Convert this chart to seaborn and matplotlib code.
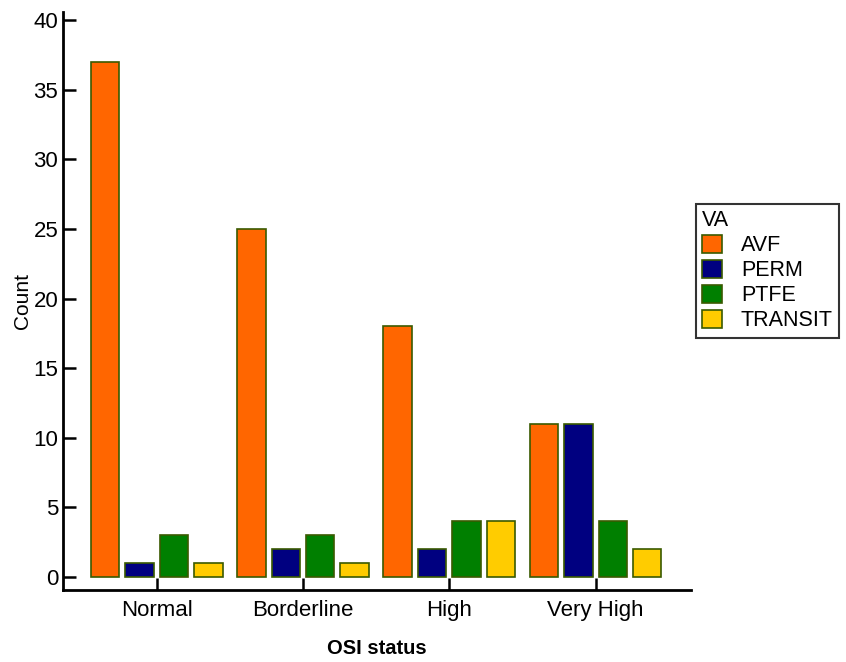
import matplotlib
matplotlib.use("Agg")
import matplotlib.pyplot as plt
import pandas as pd
import seaborn as sns

# OSI status 별 VA 종류 빈도
status = ["Normal", "Borderline", "High", "Very High"]
va_types = ["AVF", "PERM", "PTFE", "TRANSIT"]
avf = [37, 25, 18, 11]
perm = [1, 2, 2, 11]
ptfe = [3, 3, 4, 4]
transit = [1, 1, 4, 2]
colors = ["#FF6600", "#000080", "#007F00", "#FFCC00"]

rows = []
for name, vals in zip(va_types, [avf, perm, ptfe, transit]):
    for s, v in zip(status, vals):
        rows.append({"OSI status": s, "VA": name, "Count": v})
df = pd.DataFrame(rows)

sns.set_style("ticks")
plt.rcParams["font.family"] = ["Liberation Sans", "DejaVu Sans"]
plt.rcParams["text.color"] = "black"

fig = plt.figure(figsize=(8.46, 6.62), dpi=100)
ax = fig.add_axes([0.0745, 0.109, 0.742, 0.873])

sns.barplot(data=df, x="OSI status", y="Count", hue="VA", order=status,
            hue_order=va_types, palette=colors, width=0.94, gap=0.17,
            edgecolor="#3a5a00", linewidth=1.2, saturation=1, ax=ax)

ax.set_xlim(-0.64, 3.65)
ax.set_ylim(-0.93, 40.6)
ax.set_yticks([0, 5, 10, 15, 20, 25, 30, 35, 40])
sns.despine(ax=ax)
for sp in ["left", "bottom"]:
    ax.spines[sp].set_linewidth(2)
    ax.spines[sp].set_color("black")
ax.tick_params(direction="in", length=9, width=1.8, labelsize=16, colors="black")
ax.tick_params(axis="x", pad=7)
ax.set_xlabel("OSI status", fontsize=14.5, fontweight="bold", labelpad=13, color="black")
ax.set_ylabel("Count", fontsize=15, labelpad=1, color="black")

leg = ax.legend(title="VA", loc="center left", bbox_to_anchor=(1.008, 0.552),
                fontsize=15.5, title_fontsize=15.5, frameon=True, fancybox=False,
                edgecolor="black", handlelength=0.9, handleheight=0.9,
                borderpad=0.3, labelspacing=0.17, handletextpad=0.9,
                borderaxespad=0)
leg._legend_box.align = "left"
leg.get_frame().set_linewidth(1.5)
for t in leg.get_texts():
    t.set_color("black")
leg.get_title().set_color("black")

fig.savefig("out.png", dpi=100)
